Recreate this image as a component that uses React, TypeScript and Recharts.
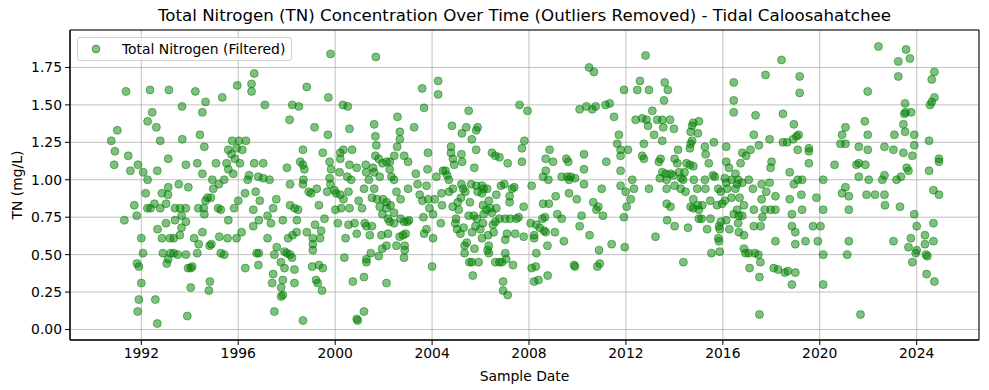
import { ScatterChart, Scatter, XAxis, YAxis, CartesianGrid, ReferenceArea, Legend } from 'recharts'

// [decimal year, TN mg/L], grouped by period
const tn1990to1993: [number, number][] = [
  [1991.37,1.59],[1992.36,1.60],[1993.14,1.60],[1993.68,1.49],[1992.45,1.45],[1992.26,1.39],[1992.62,1.35],[1991.01,1.33],
  [1990.76,1.26],[1992.78,1.26],[1993.69,1.27],[1990.91,1.19],[1991.46,1.16],[1990.88,1.10],[1993.11,1.14],[1991.86,1.10],
  [1991.55,1.06],[1992.08,1.05],[1992.66,1.06],[1993.84,1.10],[1992.26,1.00],[1993.55,0.97],[1993.11,0.95],[1993.94,0.95],
  [1992.18,0.91],[1992.85,0.91],[1993.10,0.90],[1991.71,0.83],[1992.25,0.81],[1992.38,0.81],[1992.54,0.84],[1992.78,0.81],
  [1993.02,0.84],[1993.39,0.81],[1993.60,0.81],[1993.84,0.81],[1991.81,0.76],[1991.30,0.73],[1993.39,0.73],[1993.66,0.76],
  [1993.84,0.72],[1993.02,0.71],[1993.66,0.68],[1992.67,0.67],[1992.85,0.61],[1993.18,0.61],[1993.34,0.61],[1993.59,0.63],
  [1992.00,0.61],[1992.07,0.51],[1992.89,0.51],[1993.21,0.51],[1993.34,0.51],[1993.50,0.50],[1993.84,0.50],[1993.05,0.44],
  [1993.11,0.47],[1991.82,0.44],[1991.90,0.42],[1993.93,0.41],[1992.00,0.31],[1991.90,0.20],[1992.58,0.20],[1991.85,0.12],
  [1992.66,0.04],[1993.90,0.09],
]

const tn1994to1997: [number, number][] = [
  [1996.66,1.71],[1996.55,1.64],[1996.55,1.59],[1995.96,1.63],[1994.23,1.59],[1994.65,1.52],[1995.34,1.55],[1997.10,1.50],
  [1994.52,1.45],[1994.42,1.30],[1994.60,1.22],[1995.75,1.26],[1996.03,1.26],[1996.32,1.26],[1995.59,1.20],[1995.93,1.21],
  [1996.17,1.20],[1995.72,1.17],[1995.86,1.14],[1994.31,1.11],[1995.08,1.11],[1995.52,1.11],[1996.07,1.11],[1996.66,1.11],
  [1997.03,1.11],[1995.59,1.07],[1995.79,1.04],[1994.52,1.04],[1996.45,1.03],[1996.83,1.02],[1997.03,1.01],[1994.93,1.00],
  [1995.42,1.00],[1995.20,0.97],[1996.39,1.00],[1994.97,0.94],[1994.87,0.88],[1996.28,0.91],[1996.72,0.92],[1994.73,0.88],
  [1994.65,0.86],[1996.00,0.86],[1996.89,0.86],[1994.35,0.81],[1994.58,0.81],[1995.17,0.81],[1995.28,0.80],[1995.83,0.81],
  [1994.60,0.77],[1996.62,0.80],[1997.21,0.76],[1997.44,0.81],[1995.59,0.73],[1996.85,0.73],[1996.62,0.69],[1997.35,0.71],
  [1996.14,0.65],[1994.52,0.65],[1994.18,0.61],[1995.22,0.62],[1995.56,0.61],[1995.93,0.61],[1997.21,0.61],[1994.37,0.57],
  [1994.82,0.56],[1994.89,0.57],[1994.31,0.51],[1995.28,0.51],[1995.42,0.50],[1996.76,0.51],[1996.85,0.51],[1997.49,0.50],
  [1994.04,0.41],[1994.10,0.42],[1996.29,0.41],[1996.83,0.43],[1997.44,0.37],[1997.40,0.31],[1994.04,0.28],[1994.83,0.32],
  [1994.79,0.26],[1997.49,0.12],
]

const tn1997to2000: [number, number][] = [
  [1999.81,1.84],[1998.83,1.62],[1999.72,1.55],[1998.23,1.50],[1998.50,1.49],[2000.32,1.50],[2000.52,1.49],[1998.12,1.40],
  [1999.15,1.35],[1999.70,1.30],[2000.59,1.34],[1998.67,1.20],[1999.49,1.18],[2000.21,1.18],[2000.34,1.20],[2000.70,1.20],
  [1998.56,1.12],[1998.67,1.10],[1999.77,1.12],[2000.21,1.14],[1998.01,1.08],[1998.73,1.07],[1999.83,1.07],[2000.59,1.10],
  [2000.89,1.08],[2000.18,1.05],[2000.50,1.02],[2000.66,1.00],[1999.77,1.01],[1998.69,1.00],[1997.29,1.00],[1998.14,0.97],
  [1998.67,0.97],[1999.81,0.97],[1999.24,0.94],[1998.91,0.92],[1999.01,0.91],[1999.67,0.92],[1999.97,0.93],[2000.04,0.91],
  [2000.21,0.90],[2000.55,0.92],[2000.34,0.87],[1997.57,0.87],[1999.33,0.83],[1998.14,0.83],[1998.33,0.81],[1998.47,0.80],
  [2000.25,0.81],[2000.01,0.80],[2000.59,0.81],[1999.56,0.74],[1997.84,0.73],[1998.42,0.73],[2000.11,0.71],[2000.55,0.70],
  [2000.80,0.71],[1999.17,0.70],[1998.83,0.65],[1999.42,0.66],[1998.41,0.65],[1998.24,0.63],[1998.06,0.61],[1999.08,0.61],
  [1999.38,0.61],[2000.89,0.64],[2000.43,0.61],[1997.59,0.55],[1999.08,0.57],[1999.08,0.53],[1997.91,0.52],[1998.01,0.51],
  [1998.14,0.50],[1998.22,0.48],[2000.38,0.48],[1997.76,0.45],[1997.91,0.41],[1998.32,0.40],[1999.05,0.42],[1999.33,0.43],
  [1999.49,0.41],[1997.84,0.33],[1998.32,0.31],[1999.21,0.33],[1999.28,0.31],[1999.46,0.26],[2000.73,0.32],[1997.77,0.28],
  [1997.77,0.22],[1997.84,0.23],[1998.67,0.06],[2000.89,0.07],[2000.93,0.06],
]

const tn2001to2004: [number, number][] = [
  [2001.68,1.82],[2004.25,1.66],[2004.25,1.57],[2003.59,1.61],[2003.67,1.48],[2002.57,1.42],[2001.61,1.37],[2003.26,1.35],
  [2002.67,1.32],[2001.66,1.29],[2002.67,1.27],[2001.70,1.23],[2002.56,1.22],[2003.83,1.18],[2001.66,1.16],[2002.44,1.16],
  [2002.85,1.16],[2001.80,1.14],[2003.01,1.12],[2001.95,1.11],[2002.12,1.12],[2002.26,1.12],[2001.26,1.10],[2001.56,1.08],
  [2003.33,1.04],[2003.81,1.07],[2002.25,1.07],[2004.18,1.02],[2004.45,1.06],[2001.28,1.05],[2001.61,1.05],[2001.84,1.02],
  [2002.32,1.02],[2002.43,1.00],[2001.39,1.00],[2003.40,0.97],[2003.77,0.96],[2001.19,0.94],[2001.61,0.94],[2002.53,0.92],
  [2003.01,0.94],[2004.39,0.91],[2003.49,0.90],[2000.97,0.86],[2001.52,0.88],[2001.73,0.87],[2001.98,0.87],[2002.12,0.85],
  [2002.70,0.87],[2003.60,0.86],[2003.84,0.87],[2004.11,0.87],[2001.11,0.81],[2001.84,0.82],[2002.12,0.81],[2002.29,0.83],
  [2003.89,0.81],[2004.41,0.83],[2001.95,0.77],[2002.43,0.78],[2002.18,0.74],[2002.70,0.74],[2002.98,0.72],[2003.64,0.75],
  [2004.04,0.77],[2002.84,0.72],[2003.05,0.73],[2001.22,0.71],[2001.29,0.69],[2001.52,0.69],[2002.25,0.72],[2004.36,0.71],
  [2002.43,0.71],[2001.43,0.63],[2001.91,0.63],[2002.18,0.64],[2002.91,0.64],[2003.77,0.67],[2003.67,0.64],[2002.66,0.62],
  [2002.80,0.63],[2004.04,0.61],[2002.12,0.56],[2002.53,0.56],[2002.87,0.56],[2001.94,0.54],[2002.87,0.53],[2002.84,0.48],
  [2001.47,0.51],[2001.29,0.47],[2001.29,0.45],[2001.80,0.49],[2004.00,0.42],[2001.19,0.35],[2002.12,0.31],[2001.19,0.12],
]

const tn2004to2007: [number, number][] = [
  [2005.51,1.46],[2007.61,1.50],[2007.94,1.46],[2004.82,1.36],[2005.41,1.35],[2005.23,1.31],[2005.88,1.35],[2005.82,1.33],
  [2005.64,1.27],[2007.81,1.26],[2007.71,1.21],[2004.78,1.22],[2004.78,1.18],[2005.82,1.20],[2006.47,1.18],[2006.61,1.16],
  [2006.78,1.15],[2005.21,1.17],[2005.24,1.12],[2004.86,1.14],[2004.91,1.10],[2007.12,1.11],[2007.71,1.12],[2005.74,1.08],
  [2004.55,1.06],[2004.62,1.03],[2004.69,1.00],[2005.21,0.97],[2005.61,0.97],[2006.06,0.96],[2006.98,0.97],[2006.84,0.96],
  [2007.39,0.95],[2005.28,0.94],[2005.82,0.96],[2006.13,0.94],[2006.27,0.94],[2007.30,0.94],[2004.86,0.94],[2004.70,0.92],
  [2005.88,0.92],[2005.37,0.92],[2006.06,0.91],[2005.19,0.88],[2005.56,0.85],[2006.65,0.90],[2007.20,0.89],[2006.34,0.86],
  [2007.20,0.85],[2005.06,0.85],[2004.85,0.82],[2006.10,0.83],[2007.78,0.82],[2006.65,0.81],[2005.10,0.80],[2006.24,0.80],
  [2006.40,0.81],[2006.47,0.78],[2006.13,0.77],[2005.72,0.76],[2005.51,0.76],[2004.99,0.74],[2005.85,0.74],[2006.78,0.74],
  [2007.02,0.74],[2007.22,0.74],[2007.48,0.74],[2007.57,0.75],[2004.96,0.71],[2005.30,0.68],[2005.79,0.69],[2006.10,0.71],
  [2006.51,0.70],[2006.61,0.72],[2005.03,0.67],[2005.17,0.64],[2005.65,0.65],[2005.99,0.67],[2006.31,0.63],[2006.54,0.65],
  [2007.09,0.64],[2007.43,0.64],[2007.78,0.62],[2007.02,0.60],[2006.06,0.61],[2005.43,0.58],[2005.34,0.56],[2006.34,0.56],
  [2005.75,0.54],[2006.29,0.53],[2006.34,0.51],[2005.34,0.51],[2007.02,0.51],[2005.54,0.45],[2005.64,0.45],[2005.92,0.45],
  [2006.61,0.45],[2006.78,0.45],[2006.88,0.45],[2007.06,0.47],[2007.34,0.43],[2005.68,0.36],[2006.93,0.32],[2006.93,0.26],
  [2007.12,0.23],
]

const tn2008to2011: [number, number][] = [
  [2010.48,1.75],[2010.68,1.72],[2010.09,1.47],[2010.37,1.49],[2010.61,1.47],[2010.75,1.49],[2011.16,1.50],[2011.33,1.51],
  [2011.51,1.42],[2008.85,1.20],[2008.69,1.14],[2008.99,1.12],[2009.54,1.14],[2009.62,1.12],[2010.27,1.17],[2010.27,1.07],
  [2011.19,1.12],[2008.69,1.06],[2008.58,1.02],[2008.80,1.00],[2009.35,1.02],[2009.58,1.02],[2009.72,1.02],[2009.90,1.01],
  [2009.65,1.00],[2010.27,0.97],[2011.00,0.94],[2008.11,0.96],[2009.65,0.91],[2009.10,0.89],[2009.97,0.87],[2010.65,0.85],
  [2008.58,0.84],[2008.82,0.84],[2010.86,0.82],[2010.78,0.80],[2011.05,0.76],[2009.17,0.77],[2009.35,0.74],[2010.17,0.76],
  [2008.66,0.75],[2008.55,0.74],[2008.07,0.71],[2008.30,0.70],[2010.09,0.69],[2008.44,0.68],[2008.62,0.66],[2008.69,0.65],
  [2009.07,0.65],[2008.21,0.63],[2008.21,0.61],[2008.76,0.56],[2009.44,0.59],[2010.50,0.63],[2011.41,0.57],[2010.89,0.53],
  [2008.30,0.51],[2008.11,0.41],[2008.28,0.42],[2009.86,0.43],[2009.90,0.42],[2010.82,0.42],[2010.92,0.44],[2008.77,0.36],
  [2008.21,0.32],[2008.39,0.33],
]

const tn2011to2015: [number, number][] = [
  [2012.81,1.83],[2012.58,1.66],[2012.47,1.60],[2012.95,1.60],[2011.92,1.60],[2013.60,1.65],[2013.73,1.60],[2013.57,1.53],
  [2013.09,1.46],[2012.40,1.40],[2012.67,1.41],[2012.85,1.40],[2012.91,1.36],[2013.29,1.40],[2013.50,1.40],[2013.82,1.40],
  [2013.54,1.35],[2013.98,1.34],[2013.16,1.30],[2011.71,1.30],[2013.50,1.26],[2011.64,1.24],[2012.74,1.24],[2011.78,1.20],
  [2012.08,1.20],[2011.78,1.16],[2012.67,1.16],[2012.74,1.14],[2013.43,1.14],[2013.36,1.12],[2014.15,1.20],[2014.01,1.14],
  [2014.12,1.11],[2014.64,1.10],[2014.78,1.09],[2014.50,1.11],[2014.64,1.21],[2014.67,1.24],[2014.73,1.26],[2014.67,1.32],
  [2014.73,1.36],[2014.78,1.38],[2014.97,1.31],[2015.01,1.39],[2011.78,1.06],[2013.50,1.05],[2013.64,1.04],[2013.84,1.04],
  [2014.19,1.05],[2014.42,1.05],[2013.95,1.03],[2013.40,1.01],[2014.28,1.01],[2013.68,1.00],[2012.26,1.00],[2014.36,1.00],
  [2014.80,1.00],[2011.78,0.96],[2012.33,0.94],[2012.95,0.94],[2013.68,0.94],[2014.01,0.96],[2014.26,0.94],[2014.46,0.92],
  [2011.99,0.92],[2012.20,0.87],[2014.78,0.87],[2013.68,0.84],[2013.84,0.82],[2012.03,0.82],[2014.67,0.82],[2014.97,0.83],
  [2014.78,0.81],[2015.01,0.80],[2011.92,0.75],[2013.70,0.73],[2014.01,0.69],[2014.56,0.68],[2013.22,0.62],[2011.95,0.55],
  [2014.37,0.45],[2015.01,0.74],
]

const tn2015to2018: [number, number][] = [
  [2018.42,1.80],[2017.76,1.70],[2016.45,1.65],[2016.45,1.53],[2016.45,1.45],[2017.35,1.43],[2018.48,1.44],[2017.28,1.30],
  [2017.93,1.27],[2017.49,1.23],[2018.48,1.25],[2015.63,1.25],[2015.26,1.22],[2016.14,1.22],[2015.29,1.17],[2016.80,1.18],
  [2016.96,1.16],[2017.14,1.20],[2015.42,1.11],[2016.14,1.12],[2016.73,1.11],[2016.25,1.08],[2018.01,1.12],[2017.97,1.08],
  [2016.52,1.04],[2015.59,1.03],[2015.67,1.02],[2015.26,1.00],[2016.08,1.01],[2016.36,1.00],[2016.63,1.00],[2016.80,0.98],
  [2017.07,1.00],[2016.14,0.98],[2014.94,0.94],[2015.81,0.94],[2015.92,0.92],[2016.18,0.94],[2016.52,0.94],[2016.59,0.97],
  [2017.24,0.94],[2017.60,0.97],[2017.93,0.98],[2017.79,0.92],[2015.28,0.94],[2016.36,0.88],[2016.69,0.88],[2017.60,0.87],
  [2018.17,0.89],[2016.08,0.86],[2015.48,0.86],[2015.76,0.83],[2015.97,0.84],[2015.15,0.83],[2016.87,0.83],[2016.59,0.80],
  [2017.28,0.80],[2017.73,0.80],[2017.98,0.80],[2018.17,0.80],[2015.12,0.74],[2015.49,0.74],[2016.45,0.77],[2016.66,0.76],
  [2016.80,0.76],[2017.63,0.75],[2016.14,0.73],[2015.92,0.72],[2016.63,0.71],[2017.28,0.69],[2017.56,0.69],[2015.35,0.67],
  [2015.84,0.69],[2015.87,0.67],[2016.27,0.67],[2016.66,0.65],[2016.87,0.63],[2015.81,0.61],[2015.84,0.59],[2018.17,0.59],
  [2015.87,0.52],[2015.53,0.51],[2016.87,0.54],[2016.94,0.51],[2017.07,0.51],[2017.32,0.51],[2017.46,0.50],[2017.55,0.45],
  [2017.10,0.41],[2017.51,0.35],[2018.10,0.41],[2018.28,0.40],[2018.56,0.38],[2017.51,0.10],
]

const tn2018to2021: [number, number][] = [
  [2019.17,1.69],[2019.17,1.58],[2021.98,1.59],[2018.93,1.37],[2021.06,1.35],[2021.86,1.39],[2021.98,1.30],[2019.04,1.29],
  [2019.13,1.30],[2020.92,1.30],[2018.65,1.25],[2018.90,1.27],[2020.85,1.24],[2021.06,1.24],[2019.55,1.21],[2019.55,1.19],
  [2019.09,1.20],[2021.61,1.22],[2021.98,1.20],[2019.55,1.11],[2020.61,1.10],[2021.51,1.10],[2021.61,1.11],[2021.88,1.10],
  [2018.76,1.05],[2021.61,1.02],[2018.93,0.97],[2019.09,1.00],[2019.27,1.00],[2020.14,1.00],[2021.06,0.95],[2022.02,1.00],
  [2020.92,0.91],[2021.20,0.89],[2021.93,0.90],[2019.24,0.90],[2018.76,0.87],[2019.86,0.88],[2018.85,0.77],[2019.27,0.80],
  [2020.14,0.80],[2021.20,0.80],[2018.85,0.69],[2018.99,0.65],[2019.72,0.69],[2020.03,0.69],[2018.99,0.57],[2019.41,0.59],
  [2019.92,0.59],[2021.20,0.59],[2020.14,0.50],[2021.13,0.50],[2018.68,0.39],[2018.99,0.38],[2018.85,0.30],[2020.14,0.30],
  [2021.68,0.10],
]

const tn2022to2024: [number, number][] = [
  [2022.42,1.89],[2023.56,1.87],[2023.72,1.81],[2023.24,1.79],[2024.73,1.72],[2024.62,1.67],[2023.24,1.69],[2024.73,1.55],
  [2024.62,1.52],[2024.55,1.50],[2023.52,1.51],[2023.49,1.44],[2023.54,1.45],[2023.77,1.45],[2023.45,1.37],[2023.52,1.32],
  [2023.90,1.30],[2023.08,1.30],[2024.51,1.26],[2023.90,1.23],[2022.67,1.22],[2023.04,1.20],[2023.45,1.18],[2023.82,1.16],
  [2024.92,1.14],[2024.92,1.12],[2023.59,1.08],[2023.66,1.06],[2024.51,1.06],[2022.67,1.03],[2022.58,1.00],[2023.35,1.02],
  [2023.17,1.00],[2024.69,0.93],[2024.92,0.90],[2022.28,0.90],[2022.67,0.90],[2022.69,0.83],[2023.31,0.82],[2023.90,0.77],
  [2024.00,0.69],[2024.69,0.71],[2023.04,0.59],[2023.76,0.61],[2024.34,0.63],[2024.69,0.59],[2024.34,0.57],[2023.66,0.55],
  [2024.00,0.53],[2023.96,0.51],[2024.38,0.50],[2024.44,0.49],[2023.82,0.45],[2024.41,0.37],[2024.73,0.32],
]

const yearTicks = [1992, 1996, 2000, 2004, 2008, 2012, 2016, 2020, 2024]
const tnTicks = [0, 0.25, 0.5, 0.75, 1.0, 1.25, 1.5, 1.75]

const X_DOMAIN: [number, number] = [1989.057, 2026.571]
const Y_DOMAIN: [number, number] = [-0.07, 2.0]

const FONT = 'DejaVu Sans, sans-serif'
const GREEN = '#008000'
const LABEL_SIZE = 13.9

const points = [
  ...tn1990to1993,
  ...tn1994to1997,
  ...tn1997to2000,
  ...tn2001to2004,
  ...tn2004to2007,
  ...tn2008to2011,
  ...tn2011to2015,
  ...tn2015to2018,
  ...tn2018to2021,
  ...tn2022to2024,
].map(([date, tn]) => ({ date, tn }))

function Dot(props: any) {
  const { cx, cy } = props
  if (cx == null || cy == null) return null
  return (
    <circle
      cx={cx}
      cy={cy}
      r={4}
      fill={GREEN}
      fillOpacity={0.5}
      stroke={GREEN}
      strokeOpacity={0.5}
      strokeWidth={1}
    />
  )
}

function LegendBox() {
  return (
    <div
      style={{
        display: 'flex',
        alignItems: 'center',
        border: '1px solid #d0d0d0',
        borderRadius: 3,
        background: 'rgba(255,255,255,0.8)',
        padding: '3px 6px 3px 13px',
        fontFamily: FONT,
        fontSize: LABEL_SIZE,
        color: '#000',
        whiteSpace: 'nowrap',
      }}
    >
      <svg width={10} height={10} style={{ marginRight: 21 }}>
        <circle cx={5} cy={5} r={4} fill={GREEN} fillOpacity={0.5} stroke={GREEN} strokeOpacity={0.5} />
      </svg>
      <span>Total Nitrogen (Filtered)</span>
    </div>
  )
}

export default function App() {
  const tickStyle = { fill: '#000', fontSize: LABEL_SIZE, fontFamily: FONT }
  return (
    <div
      style={{
        position: 'absolute',
        left: 0,
        top: 0,
        width: 989,
        height: 390,
        background: '#fff',
        fontFamily: FONT,
      }}
    >
      <div
        style={{
          position: 'absolute',
          left: 70,
          top: 6,
          width: 909,
          textAlign: 'center',
          fontSize: 16.67,
          lineHeight: '20px',
          color: '#000',
        }}
      >
        Total Nitrogen (TN) Concentration Over Time (Outliers Removed) - Tidal Caloosahatchee
      </div>
      <ScatterChart width={989} height={390} margin={{ top: 30, right: 10, bottom: 0, left: 0 }}>
        <CartesianGrid stroke="#b0b0b0" strokeWidth={0.8} />
        <XAxis
          type="number"
          dataKey="date"
          domain={X_DOMAIN}
          ticks={yearTicks}
          allowDataOverflow
          height={50}
          tick={tickStyle}
          tickSize={5}
          tickMargin={3}
          stroke="#000"
          tickFormatter={(v) => String(v)}
          label={{ value: 'Sample Date', position: 'insideBottom', offset: 9, fill: '#000', fontSize: LABEL_SIZE, fontFamily: FONT }}
        />
        <YAxis
          type="number"
          dataKey="tn"
          domain={Y_DOMAIN}
          ticks={tnTicks}
          allowDataOverflow
          width={70}
          tick={tickStyle}
          tickSize={5}
          tickMargin={3}
          stroke="#000"
          tickFormatter={(v) => Number(v).toFixed(2)}
          label={{
            value: 'TN (mg/L)',
            angle: -90,
            position: 'insideLeft',
            offset: 17,
            fill: '#000',
            fontSize: LABEL_SIZE,
            fontFamily: FONT,
            style: { textAnchor: 'middle' },
          }}
        />
        <ReferenceArea
          x1={X_DOMAIN[0]}
          x2={X_DOMAIN[1]}
          y1={Y_DOMAIN[0]}
          y2={Y_DOMAIN[1]}
          fill="none"
          stroke="#000"
          strokeWidth={1}
          ifOverflow="visible"
        />
        <Legend
          layout="horizontal"
          verticalAlign="middle"
          align="center"
          wrapperStyle={{ left: 77, top: 37, width: 'auto' }}
          content={() => <LegendBox />}
        />
        <Scatter name="Total Nitrogen (Filtered)" data={points} shape={<Dot />} isAnimationActive={false} />
      </ScatterChart>
    </div>
  )
}
